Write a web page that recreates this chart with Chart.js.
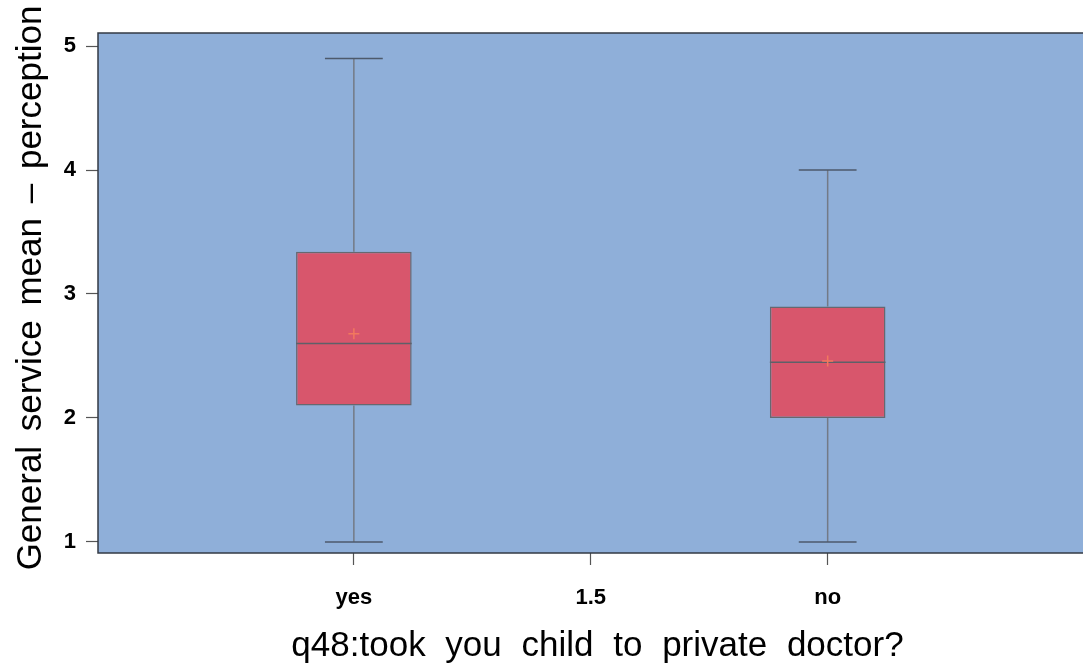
<!DOCTYPE html>
<html>
<head>
<meta charset="utf-8">
<script src="https://cdn.jsdelivr.net/npm/chart.js@4"></script>
<style>
  html, body { margin: 0; padding: 0; background: #ffffff; overflow: hidden; }
  #wrap { width: 1083px; height: 672px; overflow: hidden; }
  canvas { display: block; }
</style>
</head>
<body>
<div id="wrap"><canvas id="c" width="1100" height="672"></canvas></div>
<script>
// Box-plot summary per group
const categories  = ['yes', 'no'];
const positions   = [1, 2];
const whiskerLow  = [1.0, 1.0];
const q1          = [2.1, 2.0];
const median      = [2.6, 2.45];
const q3          = [3.34, 2.9];
const whiskerHigh = [4.9, 4.0];
const means       = [2.68, 2.46];

// Axis ticks and titles
const xTicks = [1, 1.5, 2];
const yTicks = [1, 2, 3, 4, 5];
const xTitle = 'q48:took you child to private doctor?';
const yTitle = 'General service mean \u2013 perception';

// Box and whisker-cap half widths, in x-axis units
const BOX_HALF = 0.122;
const CAP_HALF = 0.061;

const FONT = "'Liberation Sans', Arial, Helvetica, sans-serif";
const TITLE_FONT = '35px ' + FONT;

const stems = [];
const caps = [];
const medians = [];
positions.forEach((p, i) => {
  stems.push({x: p, y: whiskerLow[i]}, {x: p, y: q1[i]}, {x: p, y: null},
             {x: p, y: q3[i]}, {x: p, y: whiskerHigh[i]}, {x: p, y: null});
  caps.push({x: p - CAP_HALF, y: whiskerLow[i]}, {x: p + CAP_HALF, y: whiskerLow[i]}, {x: p, y: null},
            {x: p - CAP_HALF, y: whiskerHigh[i]}, {x: p + CAP_HALF, y: whiskerHigh[i]}, {x: p, y: null});
  medians.push({x: p - BOX_HALF, y: median[i]}, {x: p + BOX_HALF, y: median[i]}, {x: p, y: null});
});

// Panel background, frame and the two axis titles
const plotFrame = {
  id: 'plotFrame',
  beforeDraw(chart) {
    const {ctx, chartArea: a} = chart;
    ctx.save();
    ctx.fillStyle = '#8FAFD9';
    ctx.fillRect(a.left, a.top, a.right - a.left, a.bottom - a.top);
    ctx.restore();
  },
  afterDraw(chart) {
    const {ctx, chartArea: a} = chart;
    ctx.save();
    ctx.strokeStyle = '#333a44';
    ctx.lineWidth = 1.5;
    ctx.strokeRect(a.left, a.top, a.right - a.left, a.bottom - a.top);
    ctx.restore();

    // x title, centred under the panel
    ctx.save();
    ctx.font = TITLE_FONT;
    ctx.fillStyle = '#000';
    ctx.textAlign = 'center';
    ctx.textBaseline = 'alphabetic';
    ctx.wordSpacing = '10px';
    ctx.fillText(xTitle, (a.left + a.right) / 2 + 2, 656);
    ctx.restore();

    // y title, rotated, beside the panel
    ctx.save();
    ctx.translate(41, 288);
    ctx.rotate(-Math.PI / 2);
    ctx.font = TITLE_FONT;
    ctx.fillStyle = '#000';
    ctx.textAlign = 'center';
    ctx.textBaseline = 'alphabetic';
    ctx.wordSpacing = '5px';
    ctx.fillText(yTitle, 0, 0);
    ctx.restore();
  }
};

new Chart(document.getElementById('c'), {
  type: 'bar',
  data: {
    datasets: [
      {
        type: 'bar',
        data: positions.map((p, i) => ({x: p, y: [q1[i], q3[i]]})),
        backgroundColor: '#D8566C',
        borderColor: '#666870',
        borderWidth: 1.5,
        borderSkipped: false,
        categoryPercentage: 1,
        barPercentage: BOX_HALF * 2 / 0.5,
        order: 2
      },
      {
        type: 'line',
        data: stems,
        borderColor: '#737a86',
        borderWidth: 1.5,
        pointRadius: 0,
        spanGaps: false,
        order: 3
      },
      {
        type: 'line',
        data: caps,
        borderColor: '#4d5a6c',
        borderWidth: 1.5,
        pointRadius: 0,
        spanGaps: false,
        order: 1
      },
      {
        type: 'line',
        data: medians,
        borderColor: '#5e6068',
        borderWidth: 1.5,
        pointRadius: 0,
        spanGaps: false,
        order: 1
      },
      {
        type: 'line',
        data: positions.map((p, i) => ({x: p, y: means[i]})),
        showLine: false,
        pointStyle: 'cross',
        pointRadius: 5.5,
        borderColor: '#F2785E',
        borderWidth: 1.5,
        order: 0
      }
    ]
  },
  options: {
    responsive: false,
    animation: false,
    layout: { padding: { top: 33, right: 0, bottom: 0, left: 0 } },
    plugins: { legend: { display: false }, tooltip: { enabled: false } },
    scales: {
      x: {
        type: 'linear',
        min: 0.46,
        max: 2.56,
        offset: false,
        afterBuildTicks(scale) { scale.ticks = xTicks.map(v => ({value: v})); },
        afterFit(scale) { scale.height = 119; },
        grid: { drawOnChartArea: false, drawTicks: true, tickLength: 12, tickColor: '#555', tickWidth: 1.2, offset: false },
        border: { display: false },
        ticks: {
          padding: 20,
          color: '#000',
          font: { family: FONT, size: 22, weight: 'bold' },
          callback(v) {
            const i = positions.indexOf(v);
            return i >= 0 ? categories[i] : String(v);
          }
        },
        title: { display: false }
      },
      y: {
        min: 0.911,
        max: 5.105,
        afterBuildTicks(scale) { scale.ticks = yTicks.map(v => ({value: v})); },
        afterFit(scale) { scale.width = 98; },
        grid: { drawOnChartArea: false, drawTicks: true, tickLength: 12, tickColor: '#555', tickWidth: 1.2 },
        border: { display: false },
        ticks: {
          padding: 10,
          color: '#000',
          font: { family: FONT, size: 22, weight: 'bold' },
          callback(v) { return String(v); }
        },
        title: { display: false }
      }
    }
  },
  plugins: [plotFrame]
});
</script>
</body>
</html>
